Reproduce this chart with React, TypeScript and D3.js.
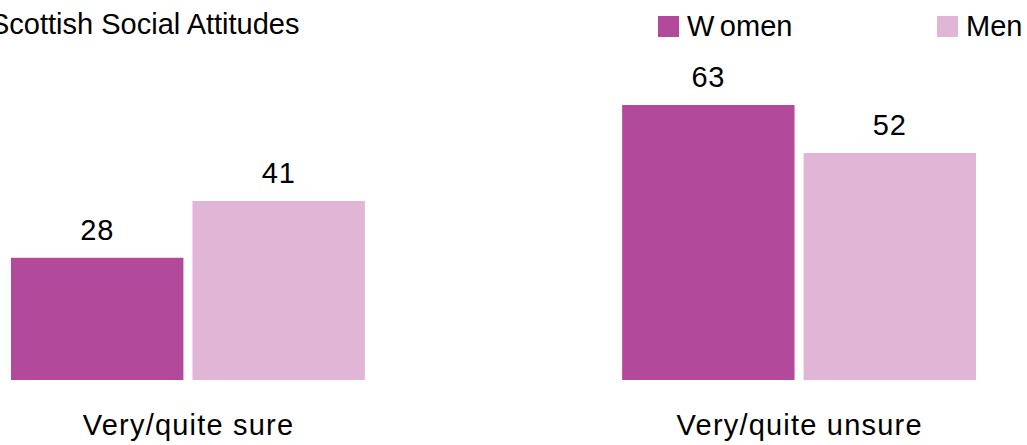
import React from "react";
import * as d3 from "d3";

const categories = ["Very/quite sure", "Very/quite unsure"];
const seriesNames = ["Women", "Men"];
const women = [28, 63];
const men = [41, 52];
const colors = ["#b3499a", "#e1b5d6"];
const title = "Scottish Social Attitudes";

const W = 1027;
const H = 445;
const FONT = "'Liberation Sans', Arial, Helvetica, sans-serif";
const FS = 29;

export default function App() {
  const values = [women, men];
  const baseline = 380;
  const y = d3.scaleLinear().domain([0, 100]).range([baseline, baseline - 436.5]);
  const x0 = d3.scaleBand<string>().domain(categories).range([11, 976]).paddingInner(0.421).paddingOuter(0);
  const x1 = d3.scaleBand<string>().domain(seriesNames).range([0, x0.bandwidth()]).paddingInner(0.05).paddingOuter(0);

  const legendX = [658, 937];

  return (
    <div style={{ position: "fixed", left: 0, top: 0, width: W, height: H, background: "#fff" }}>
      <svg width={W} height={H} style={{ display: "block" }} fontFamily={FONT}>
        <rect x={0} y={0} width={W} height={H} fill="#fff" />
        <text x={-10} y={34} fontSize={FS} fill="#000">{title}</text>
        {seriesNames.map((s, i) => (
          <g key={s}>
            <rect x={legendX[i]} y={16} width={21} height={21} fill={colors[i]} />
            <text x={legendX[i] + 29} y={36} fontSize={FS} fill="#000">
              {s === "Women" ? (
                <>
                  <tspan>W</tspan>
                  <tspan dx={6}>omen</tspan>
                </>
              ) : (
                s
              )}
            </text>
          </g>
        ))}
        {categories.map((c, ci) => (
          <g key={c} transform={`translate(${x0(c)},0)`}>
            {seriesNames.map((s, si) => {
              const v = values[si][ci];
              const bx = x1(s)!;
              return (
                <g key={s}>
                  <rect x={bx} y={y(v)} width={x1.bandwidth()} height={baseline - y(v)} fill={colors[si]} />
                  <text x={bx + x1.bandwidth() / 2} y={y(v) - 18} textAnchor="middle" fontSize={FS} letterSpacing={0.8} fill="#000">{v}</text>
                </g>
              );
            })}
            <text x={x0.bandwidth() / 2 + 0.6} y={435} textAnchor="middle" fontSize={FS} letterSpacing={1.2} fill="#000">{c}</text>
          </g>
        ))}
      </svg>
    </div>
  );
}
